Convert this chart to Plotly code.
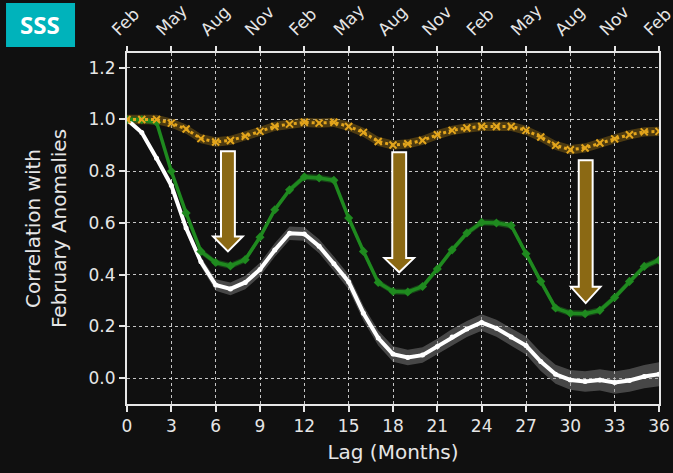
import plotly.graph_objects as go

lags = list(range(37))

white_vals = [1.0, 0.95, 0.85, 0.745, 0.58, 0.45, 0.36, 0.345, 0.37, 0.42, 0.495, 0.56, 0.557,
              0.51, 0.442, 0.372, 0.251, 0.155, 0.093, 0.080, 0.089, 0.122, 0.159, 0.19, 0.215,
              0.193, 0.159, 0.126, 0.064, 0.015, -0.007, -0.013, -0.007, -0.017, -0.009, 0.006, 0.015]
white_err = [0.003, 0.006, 0.009, 0.012, 0.015, 0.018, 0.022, 0.025, 0.026, 0.026, 0.026, 0.026, 0.026,
             0.027, 0.028, 0.028, 0.029, 0.029, 0.030, 0.030, 0.030, 0.030, 0.031, 0.031, 0.032,
             0.033, 0.034, 0.035, 0.036, 0.037, 0.038, 0.040, 0.041, 0.043, 0.044, 0.045, 0.046]

green_vals = [1.0, 0.999, 0.989, 0.80, 0.638, 0.49, 0.447, 0.434, 0.458, 0.545, 0.651, 0.728, 0.778,
              0.774, 0.765, 0.619, 0.49, 0.37, 0.335, 0.333, 0.354, 0.422, 0.496, 0.561, 0.602,
              0.60, 0.59, 0.481, 0.374, 0.271, 0.251, 0.249, 0.262, 0.312, 0.374, 0.432, 0.456]
green_err = [0.012] * 37

gold_vals = [1.0, 1.0, 1.0, 0.986, 0.963, 0.926, 0.913, 0.919, 0.935, 0.954, 0.973, 0.982, 0.989,
             0.986, 0.989, 0.973, 0.95, 0.915, 0.901, 0.906, 0.919, 0.941, 0.958, 0.967, 0.973,
             0.973, 0.973, 0.958, 0.932, 0.90, 0.883, 0.89, 0.909, 0.925, 0.941, 0.952, 0.954]
gold_err = [0.018] * 37

top_tickvals = list(range(0, 37, 3))
top_ticktext = ["Feb", "May", "Aug", "Nov", "Feb", "May", "Aug", "Nov",
                "Feb", "May", "Aug", "Nov", "Feb"]
bottom_tickvals = list(range(0, 37, 3))
y_tickvals = [0.0, 0.2, 0.4, 0.6, 0.8, 1.0, 1.2]

# arrows: center (month), top, head base, tip (correlation)
arrow_x = [6.83, 18.42, 31.04]
arrow_top = [0.877, 0.873, 0.842]
arrow_head = [0.548, 0.464, 0.353]
arrow_tip = [0.49, 0.409, 0.29]
arrow_shaft_hw = 0.47
arrow_head_hw = 1.0

fig = go.Figure()


def band(vals, err, color):
    up = [v + e for v, e in zip(vals, err)]
    lo = [v - e for v, e in zip(vals, err)]
    fig.add_trace(go.Scatter(x=lags, y=up, mode="lines", line=dict(width=0),
                             hoverinfo="skip", showlegend=False))
    fig.add_trace(go.Scatter(x=lags, y=lo, mode="lines", line=dict(width=0),
                             fill="tonexty", fillcolor=color,
                             hoverinfo="skip", showlegend=False))


band(white_vals, white_err, "rgba(140,140,140,0.45)")
band(gold_vals, gold_err, "rgba(150,110,20,0.45)")
band(green_vals, green_err, "rgba(30,120,30,0.5)")

fig.add_trace(go.Scatter(x=lags, y=white_vals, mode="lines+markers",
                         line=dict(color="white", width=4),
                         marker=dict(color="white", size=5), showlegend=False))
fig.add_trace(go.Scatter(x=lags, y=green_vals, mode="lines+markers",
                         line=dict(color="#1f8a1f", width=3.5),
                         marker=dict(color="#1f8a1f", size=7, symbol="diamond"),
                         showlegend=False))
fig.add_trace(go.Scatter(x=lags, y=gold_vals, mode="lines+markers",
                         line=dict(color="#e3a51c", width=3, dash="dot"),
                         marker=dict(color="#e3a51c", size=7, symbol="x-thin",
                                     line=dict(color="#e3a51c", width=2)),
                         showlegend=False))
# dummy trace for top axis
fig.add_trace(go.Scatter(x=[0, 36], y=[None, None], xaxis="x2", mode="lines",
                         showlegend=False, hoverinfo="skip"))

shapes = []
for cx, top, head, tip in zip(arrow_x, arrow_top, arrow_head, arrow_tip):
    path = (f"M {cx - arrow_shaft_hw},{top} L {cx + arrow_shaft_hw},{top} "
            f"L {cx + arrow_shaft_hw},{head} L {cx + arrow_head_hw},{head} "
            f"L {cx},{tip} L {cx - arrow_head_hw},{head} "
            f"L {cx - arrow_shaft_hw},{head} Z")
    shapes.append(dict(type="path", path=path, xref="x", yref="y",
                       fillcolor="#8b6914", line=dict(color="white", width=2)))

# SSS badge
shapes.append(dict(type="rect", xref="paper", yref="paper",
                   x0=-0.2274, x1=-0.0977, y0=1.017, y1=1.1425,
                   fillcolor="#00b3bb", line=dict(width=0), layer="above"))

font_family = "'DejaVu Sans', sans-serif"
tick_font = dict(family=font_family, size=17, color="#e6e6e6")

fig.update_layout(
    width=673, height=473,
    margin=dict(l=127, r=14, t=53, b=69),
    paper_bgcolor="#101010", plot_bgcolor="#101010",
    shapes=shapes,
    font=dict(family=font_family, color="#e6e6e6"),
    xaxis=dict(range=[0, 36], tickvals=bottom_tickvals, tickfont=tick_font,
               automargin=False,
               showline=True, linecolor="#e6e6e6", linewidth=2,
               ticks="outside", ticklen=6, tickcolor="#e6e6e6", tickwidth=1.5,
               showgrid=True, gridcolor="rgba(230,230,230,0.85)", griddash="dot",
               gridwidth=1.2, zeroline=False,
               title=dict(text="Lag (Months)", font=dict(family=font_family, size=20,
                                                         color="#e6e6e6"), standoff=10)),
    xaxis2=dict(range=[0, 36], overlaying="x", side="top", anchor="y",
                automargin=False, ticklabeloverflow="allow",
                tickvals=top_tickvals, ticktext=top_ticktext, tickangle=-45,
                ticklabelshift=-14,
                tickfont=dict(family=font_family, size=17, color="#e6e6e6"),
                showline=True, linecolor="#e6e6e6", linewidth=2,
                ticks="outside", ticklen=5, tickcolor="#e6e6e6", tickwidth=1.5,
                showgrid=False, zeroline=False),
    yaxis=dict(range=[-0.1, 1.257], tickvals=y_tickvals, tickformat=".1f",
               automargin=False,
               tickfont=tick_font, showline=True, mirror=True,
               linecolor="#e6e6e6", linewidth=2,
               ticks="outside", ticklen=6, tickcolor="#e6e6e6", tickwidth=1.5,
               showgrid=True, gridcolor="rgba(230,230,230,0.85)", griddash="dot",
               gridwidth=1.2, zeroline=False,
               title=dict(text="Correlation with<br>February Anomalies",
                          font=dict(family=font_family, size=20, color="#e6e6e6"),
                          standoff=17)),
    annotations=[dict(text="<b>SSS</b>", xref="paper", yref="paper",
                      x=-0.1626, y=1.0798, showarrow=False,
                      font=dict(family="'Open Sans', sans-serif", size=24, color="white"),
                      xanchor="center", yanchor="middle")],
)

fig.write_html("out.html", config={"displayModeBar": False},
               post_script="document.body.style.margin='0';document.body.style.background='#101010';")
